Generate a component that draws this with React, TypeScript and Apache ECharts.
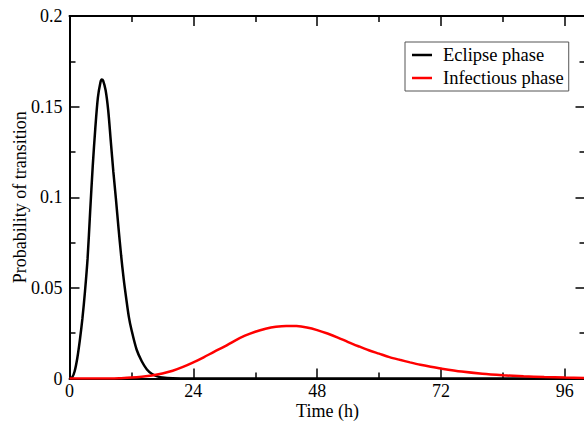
import React, { useEffect, useRef } from 'react';
import * as echarts from 'echarts';

const seriesNames = ['Eclipse phase', 'Infectious phase'];

const eclipseT = [0, 0.5, 1, 1.5, 2, 2.5, 3, 3.5, 4, 4.5, 5, 5.5, 6, 6.25, 6.5, 7, 7.5, 8, 8.5, 9, 9.5, 10, 10.5, 11, 11.5, 12, 13, 14, 15, 16, 17, 18, 20, 24, 100];
const eclipseP = [0, 0.0005, 0.004, 0.011, 0.021, 0.033, 0.048, 0.066, 0.092, 0.117, 0.138, 0.155, 0.1635, 0.165, 0.1645, 0.159, 0.148, 0.131, 0.114, 0.099, 0.083, 0.068, 0.055, 0.044, 0.034, 0.027, 0.016, 0.0095, 0.005, 0.0025, 0.0012, 0.0005, 0.0001, 0, 0];

const infT = [0, 8, 10, 12, 14, 16, 18, 20, 22, 24, 26, 28, 30, 32, 34, 36, 38, 40, 42, 44, 46, 48, 50, 52, 54, 56, 58, 60, 62, 64, 66, 68, 70, 72, 76, 80, 84, 88, 92, 96, 100];
const infP = [0, 0, 0.0002, 0.0005, 0.001, 0.0017, 0.0028, 0.0043, 0.0064, 0.0089, 0.0117, 0.0147, 0.0176, 0.0208, 0.0236, 0.0258, 0.0274, 0.0285, 0.029, 0.0289, 0.0281, 0.0267, 0.0248, 0.0226, 0.0201, 0.0178, 0.0156, 0.0137, 0.0118, 0.0103, 0.0089, 0.0076, 0.0065, 0.0055, 0.0038, 0.0026, 0.0018, 0.0012, 0.0008, 0.0005, 0.0003];

const xTickLabels = [0, 24, 48, 72, 96];
const yTickLabels = [0, 0.05, 0.1, 0.15, 0.2];

const FONT = "'Liberation Serif', serif";

export default function App() {
  const ref = useRef<HTMLDivElement>(null);
  useEffect(() => {
    if (!ref.current) return;
    const chart = echarts.init(ref.current, undefined, { renderer: 'svg' });
    const tickCommon = {
      axisLine: { show: true, onZero: false, lineStyle: { color: '#000', width: 2 } },
      axisTick: { show: true, inside: true, length: 10, lineStyle: { color: '#000', width: 1.5 } },
      minorTick: { show: true, splitNumber: 2, length: 6, lineStyle: { color: '#000', width: 1.5 } },
      splitLine: { show: false },
    };
    chart.setOption({
      animation: false,
      backgroundColor: '#fff',
      grid: { left: 69.5, top: 16, width: 516, height: 362.5, containLabel: false, outerBoundsMode: 'none' },
      legend: {
        show: true,
        data: seriesNames,
        orient: 'vertical',
        left: 405,
        top: 42,
        padding: [3, 5, 3, 7],
        itemGap: 3,
        itemWidth: 20,
        itemHeight: 2.5,
        icon: 'rect',
        borderColor: '#555',
        borderWidth: 1,
        borderRadius: 0,
        backgroundColor: '#fff',
        textStyle: { fontFamily: FONT, fontSize: 18.5, color: '#000', lineHeight: 20, padding: [0, 0, 0, 6] },
      },
      xAxis: [
        {
          type: 'value',
          min: 0,
          max: 100,
          interval: 24,
          position: 'bottom',
          name: 'Time (h)',
          nameLocation: 'middle',
          nameGap: 23,
          nameMoveOverlap: false,
          nameTextStyle: { fontFamily: FONT, fontSize: 18, color: '#000' },
          axisLabel: {
            fontFamily: FONT,
            fontSize: 18,
            color: '#000',
            margin: 3,
            showMaxLabel: false,
            formatter: (v: number) => (xTickLabels.includes(v) ? String(v) : ''),
          },
          ...tickCommon,
        },
        {
          type: 'value',
          min: 0,
          max: 100,
          interval: 24,
          position: 'top',
          axisLabel: { show: false },
          ...tickCommon,
        },
      ],
      yAxis: [
        {
          type: 'value',
          min: 0,
          max: 0.2,
          interval: 0.05,
          position: 'left',
          name: 'Probability of transition',
          nameLocation: 'middle',
          nameGap: 41,
          nameMoveOverlap: false,
          nameTextStyle: { fontFamily: FONT, fontSize: 18, color: '#000' },
          axisLabel: {
            fontFamily: FONT,
            fontSize: 18,
            color: '#000',
            margin: 7,
            formatter: (v: number) => {
              const m = yTickLabels.find((t) => Math.abs(t - v) < 1e-9);
              return m === undefined ? '' : String(m);
            },
          },
          ...tickCommon,
        },
        {
          type: 'value',
          min: 0,
          max: 0.2,
          interval: 0.05,
          position: 'right',
          axisLabel: { show: false },
          ...tickCommon,
        },
      ],
      series: [
        {
          name: seriesNames[0],
          type: 'line',
          data: eclipseT.map((t, i) => [t, eclipseP[i]]),
          showSymbol: false,
          symbol: 'none',
          smooth: 0.3,
          lineStyle: { color: '#000', width: 2.5 },
          itemStyle: { color: '#000' },
        },
        {
          name: seriesNames[1],
          type: 'line',
          data: infT.map((t, i) => [t, infP[i]]),
          showSymbol: false,
          symbol: 'none',
          smooth: 0.3,
          lineStyle: { color: '#ff0000', width: 2.5 },
          itemStyle: { color: '#ff0000' },
        },
      ],
    });
    return () => chart.dispose();
  }, []);
  return (
    <div
      ref={ref}
      style={{ position: 'fixed', left: 0, top: 0, width: 584, height: 423 }}
    />
  );
}
